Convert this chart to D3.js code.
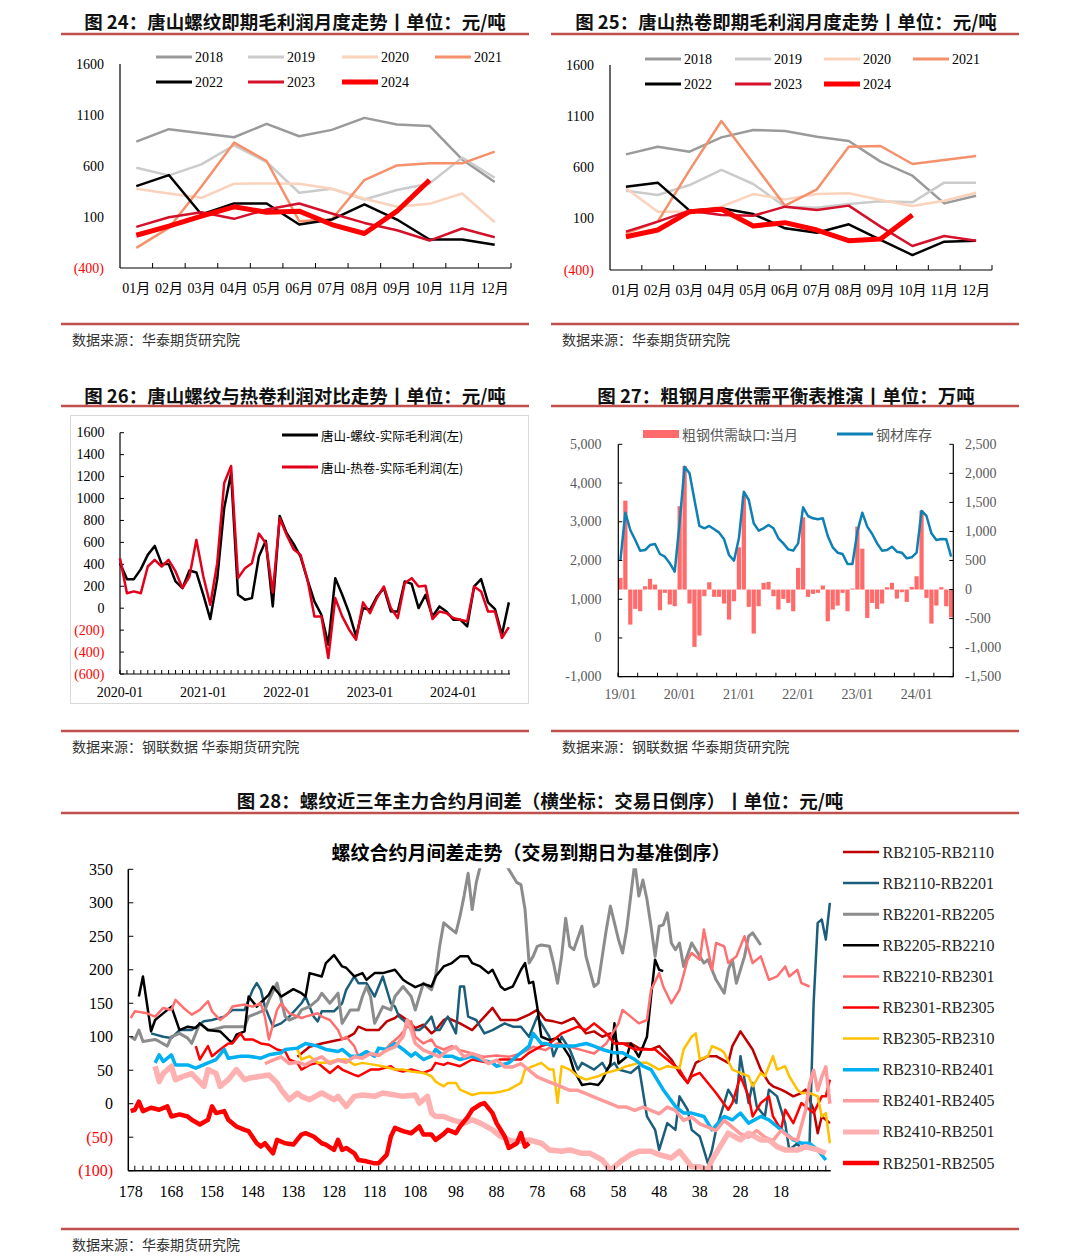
<!DOCTYPE html>
<html>
<head>
<meta charset="utf-8">
<script src="https://cdn.jsdelivr.net/npm/d3@7"></script>
<style>
body { margin: 0; background: #fff; }
svg { display: block; }
</style>
</head>
<body>
<script>
// ---------- chart 24 / 25: monthly gross profit by year ----------
var months = ["01月", "02月", "03月", "04月", "05月", "06月", "07月", "08月", "09月", "10月", "11月", "12月"];
var years = ["2018", "2019", "2020", "2021", "2022", "2023", "2024"];
var profitTicks = [1600, 1100, 600, 100, -400];

var rebar18 = [839, 961, 921, 882, 1013, 892, 954, 1072, 1006, 993, 665, 443];
var rebar19 = [583, 508, 616, 803, 639, 338, 377, 272, 364, 429, 682, 485];
var rebar20 = [377, 331, 288, 426, 429, 426, 377, 279, 200, 229, 331, 49];
var rebar21 = [-203, -7, 400, 829, 649, 59, 75, 462, 606, 626, 626, 741];
var rebar22 = [403, 511, 124, 233, 233, 26, 75, 223, 75, -121, -121, -171];
var rebar23 = [3, 98, 147, 82, 174, 233, 134, 42, -30, -131, -13, -98];
var rebar24 = [-79, 10, 108, 200, 147, 157, 26, -62, 157, 462];

var hrc18 = [728, 803, 754, 894, 966, 956, 901, 859, 657, 520, 250, 325];
var hrc19 = [374, 332, 429, 576, 439, 218, 208, 244, 270, 260, 452, 452];
var hrc20 = [397, 169, 169, 218, 341, 289, 341, 348, 283, 224, 276, 354];
var hrc21 = [-42, 72, 575, 1054, 641, 228, 387, 803, 810, 634, 673, 712];
var hrc22 = [413, 452, 179, 202, 146, 7, -36, 46, -107, -254, -124, -114];
var hrc23 = [-26, 72, 179, 137, 130, 218, 185, 228, 23, -166, -68, -114];
var hrc24 = [-75, -10, 169, 192, 29, 62, -10, -114, -98, 137];

// ---------- chart 26: monthly actual gross profit 2020-01 .. 2024-09 ----------
var yearLabels26 = ["2020-01", "2021-01", "2022-01", "2023-01", "2024-01"];
var profitTicks26 = [1600, 1400, 1200, 1000, 800, 600, 400, 200, 0, -200, -400, -600];
var rebarProfit = [410, 265, 265, 356, 486, 568, 404, 404, 244, 183, 344, 326, 122, -99, 265, 911, 1230, 122, 77, 92,
  471, 614, 16, 841, 684, 586, 471, 259, 62, -60, -333, 274, 122, -45, -257, 1, -14, 107, 183, -30,
  -30, 244, 222, 1, 122, -75, 16, -30, -105, -105, -166, 198, 265, 53, -8, -242, 53];
var hrcProfit = [456, 137, 153, 137, 380, 441, 380, 441, 335, 183, 289, 623, 289, 31, 410, 1139, 1297, 274, 365, 410,
  680, 593, 143, 820, 668, 538, 486, 259, -75, -75, -454, 92, -75, -196, -287, 53, -45, 92, 198, 1,
  -90, 228, 274, 198, 204, -99, -30, -45, -90, -105, -120, 198, 153, -30, -30, -272, -172];

// ---------- chart 27: crude steel balance 2019-01 .. 2024-08 ----------
var yearLabels27 = ["19/01", "20/01", "21/01", "22/01", "23/01", "24/01"];
var leftTicks27 = [5000, 4000, 3000, 2000, 1000, 0, -1000];
var rightTicks27 = [2500, 2000, 1500, 1000, 500, 0, -500, -1000, -1500];
var steelGap = [201, 1530, -603, -333, -373, 57, 184, 86, -356, -57, -258, -287,
  1435, 2124, -241, -987, -792, -115, 126, -126, -126, -241, -517, -201,
  727, 1611, -298, -758, -287, 115, 132, -115, -344, -161, -230, -373,
  373, 1244, -126, -75, -57, 69, -546, -344, -276, -57, -373, 17,
  1083, 703, -488, -230, -333, -241, 40, 115, -155, -46, -212, 46,
  229, 1358, -143, -586, -276, 40, -287, -480];
var steelStock = [2013, 3235, 2788, 2530, 2254, 2271, 2400, 2426, 2168, 2099, 1927, 1712,
  3000, 4423, 4251, 3562, 2891, 2831, 2891, 2805, 2719, 2547, 2142, 1996,
  2573, 3778, 3562, 2960, 2770, 2831, 2917, 2831, 2573, 2443, 2288, 2254,
  2443, 3373, 3149, 3089, 3063, 3089, 2633, 2340, 2202, 2168, 1910, 1910,
  2745, 3235, 2874, 2684, 2443, 2254, 2271, 2357, 2228, 2202, 2056, 2082,
  2202, 3278, 3149, 2702, 2530, 2556, 2547, 2100];

// ---------- chart 28: rebar calendar spreads, [trading days to expiry, spread] ----------
var spreadTicksY = [350, 300, 250, 200, 150, 100, 50, 0, -50, -100];
var spreadTicksX = [178, 168, 158, 148, 138, 128, 118, 108, 98, 88, 78, 68, 58, 48, 38, 28, 18];
var spreadNames = ["RB2105-RB2110", "RB2110-RB2201", "RB2201-RB2205", "RB2205-RB2210", "RB2210-RB2301",
  "RB2301-RB2305", "RB2305-RB2310", "RB2310-RB2401", "RB2401-RB2405", "RB2410-RB2501", "RB2501-RB2505"];

var s2105 = [[137,70],[134,85],[131,90],[127,95],[125,98],[123,105],[122,115],[120,110],[117,110],[115,123],[113,128],[112,133],[110,125],[108,113],[106,118],[104,105],[103,110],[101,125],[100,128],[97,120],[94,110],[89,143],[87,125],[85,125],[83,125],[80,133],[78,140],[76,125],[74,123],[72,120],[69,128],[66,105],[64,108],[62,100],[60,105],[58,90],[55,90],[53,83],[50,81],[48,86],[45,66],[43,46],[41,31],[39,61],[36,71],[34,71],[31,61],[30,86],[28,108],[26,90],[25,81],[23,51],[21,31],[20,26],[18,21],[17,18],[15,11],[13,16],[12,21],[10,-9],[9,-44],[8,-19],[6,-29]];
var s2110 = [[173,105],[170,100],[168,98],[166,110],[163,110],[160,123],[158,125],[155,130],[153,140],[150,140],[148,170],[147,180],[146,170],[145,145],[143,115],[141,120],[139,130],[136,150],[135,160],[133,130],[132,123],[131,138],[128,138],[126,150],[125,170],[123,190],[122,180],[120,180],[118,160],[116,190],[114,150],[113,145],[112,130],[110,120],[109,110],[107,110],[106,115],[104,130],[103,110],[102,110],[100,130],[98,105],[97,175],[96,175],[95,130],[93,125],[91,105],[89,110],[86,120],[84,115],[82,115],[80,100],[78,130],[76,110],[75,100],[74,71],[72,100],[70,81],[68,51],[67,61],[64,51],[62,61],[61,51],[59,61],[58,51],[55,46],[53,56],[51,-19],[49,-39],[48,-69],[46,-29],[44,-39],[43,11],[41,-9],[40,-39],[38,-49],[36,-89],[35,-69],[34,-39],[32,1],[31,21],[29,1],[28,71],[26,1],[25,31],[24,-4],[22,-19],[21,21],[19,11],[17,-29],[16,-69],[14,-59],[13,-69],[11,-59],[10,150],[9,270],[8,275],[7,245],[6,300]];
var s2201 = [[178,100],[177,96],[176,110],[175,93],[172,96],[171,93],[169,86],[168,100],[166,105],[164,98],[163,90],[161,120],[159,110],[158,110],[155,115],[153,115],[150,115],[149,130],[147,135],[145,140],[144,155],[142,180],[140,130],[139,125],[137,130],[136,140],[134,145],[132,155],[131,165],[129,150],[127,165],[126,120],[124,140],[122,140],[121,160],[120,175],[119,160],[118,120],[116,145],[114,140],[113,160],[111,175],[109,160],[108,140],[106,180],[104,170],[103,190],[102,235],[101,270],[99,260],[98,255],[97,280],[96,310],[95,344],[94,290],[93,330],[92,355],[90,360],[86,360],[84,340],[83,330],[82,327],[81,290],[80,210],[79,220],[78,235],[77,237],[75,235],[74,210],[73,180],[72,220],[71,277],[70,235],[69,230],[67,265],[66,220],[64,175],[63,180],[62,220],[61,260],[60,295],[58,245],[57,225],[56,260],[55,310],[54,360],[53,310],[52,334],[51,305],[50,265],[49,220],[48,265],[47,267],[46,285],[45,240],[44,230],[43,240],[42,205],[40,240],[39,230],[37,210],[36,215],[34,185],[32,165],[31,200],[30,215],[29,180],[27,220],[26,250],[25,255],[23,237]];
var s2205 = [[176,160],[175,190],[173,108],[172,125],[171,130],[168,145],[166,110],[164,115],[162,113],[161,120],[159,110],[156,108],[154,96],[153,91],[152,103],[150,108],[149,160],[147,145],[144,163],[143,175],[141,160],[138,171],[136,165],[135,160],[134,195],[131,190],[130,210],[128,222],[126,205],[125,203],[123,190],[121,195],[120,185],[118,195],[116,195],[113,200],[111,185],[110,181],[108,174],[106,179],[104,175],[103,190],[101,205],[99,210],[97,220],[95,220],[94,210],[92,205],[90,195],[89,200],[87,175],[86,170],[84,175],[82,200],[81,210],[80,180],[79,182],[78,145],[77,100],[75,95],[73,98],[70,70],[69,50],[67,28],[65,30],[63,28],[62,35],[60,60],[59,120],[58,60],[56,70],[55,90],[53,70],[51,100],[50,160],[49,215],[48,200],[47,198]];
var s2210 = [[178,128],[177,138],[174,135],[172,130],[170,143],[168,140],[167,155],[165,143],[163,133],[161,140],[159,153],[158,138],[156,125],[154,135],[153,145],[150,148],[148,145],[146,150],[145,130],[144,96],[142,140],[141,150],[139,135],[136,128],[135,130],[132,135],[131,130],[129,125],[127,110],[126,96],[125,100],[123,86],[122,71],[120,76],[118,71],[116,76],[114,90],[112,100],[110,115],[109,123],[108,100],[106,90],[104,96],[103,86],[101,81],[99,86],[97,80],[94,75],[91,70],[88,72],[85,70],[82,75],[79,85],[76,80],[73,90],[70,85],[67,80],[64,75],[61,90],[58,120],[57,140],[55,130],[53,120],[51,125],[50,170],[48,195],[47,175],[45,150],[43,170],[41,215],[40,225],[38,215],[37,260],[35,200],[34,240],[32,235],[31,210],[29,220],[27,250],[25,210],[23,220],[21,185],[19,190],[17,205],[16,190],[14,200],[13,180],[11,175]];
var s2301 = [[162,86],[161,66],[159,86],[158,71],[156,81],[154,90],[153,90],[151,105],[150,96],[148,96],[146,90],[144,88],[142,81],[140,78],[139,66],[137,61],[136,51],[134,58],[132,61],[131,56],[129,46],[127,56],[126,51],[123,43],[122,41],[119,51],[117,51],[114,56],[113,51],[111,48],[109,51],[106,46],[104,51],[103,61],[101,58],[100,61],[97,56],[94,66],[90,61],[87,66],[84,66],[82,66],[80,76],[77,86],[75,90],[72,105],[70,110],[68,115],[66,110],[64,120],[62,110],[61,105],[59,90],[57,90],[54,81],[52,81],[49,81],[47,71],[44,56],[43,51],[41,31],[40,41],[38,46],[36,31],[34,16],[31,-9],[30,1],[28,41],[26,11],[25,-19],[23,1],[21,11],[20,-19],[18,-39],[17,-9],[15,-29],[13,1],[12,-4],[10,-14],[8,11],[7,11],[6,36]];
var s2305 = [[137,81],[136,66],[134,71],[132,61],[130,61],[127,66],[125,66],[123,58],[121,61],[118,58],[116,56],[113,51],[111,51],[109,48],[106,46],[104,41],[103,33],[101,26],[100,31],[98,31],[97,21],[94,13],[92,16],[89,16],[87,18],[85,21],[82,31],[81,51],[79,56],[77,61],[75,51],[74,51],[73,1],[72,56],[70,51],[68,41],[66,36],[63,41],[61,46],[58,51],[56,56],[53,61],[51,61],[48,51],[46,56],[43,53],[42,81],[40,100],[39,105],[38,66],[36,71],[35,86],[33,81],[32,76],[30,51],[28,46],[26,41],[25,26],[23,46],[22,41],[20,71],[19,51],[17,56],[16,41],[14,21],[13,16],[11,16],[9,11],[8,-19],[7,-14],[6,-59]];
var s2310 = [[172,61],[171,73],[170,63],[168,73],[167,58],[164,58],[162,53],[159,61],[157,66],[155,81],[154,68],[151,71],[149,71],[146,68],[144,73],[141,76],[140,81],[137,83],[135,90],[132,86],[130,81],[127,78],[126,81],[124,71],[122,71],[120,78],[118,71],[117,83],[115,81],[113,90],[111,81],[109,71],[108,76],[106,66],[104,71],[103,81],[101,71],[99,71],[97,66],[94,71],[92,66],[89,61],[88,56],[85,61],[83,71],[80,86],[79,105],[77,90],[76,90],[74,86],[71,86],[69,86],[66,90],[64,86],[62,81],[59,76],[57,76],[54,66],[52,56],[50,51],[47,21],[44,-4],[42,-14],[40,-14],[37,-19],[35,-39],[32,-19],[30,-24],[28,-14],[26,-29],[23,-19],[21,-24],[19,-34],[17,-44],[15,-54],[13,-59],[11,-59],[9,-69],[7,-84]];
var s2401 = [[145,60],[143,65],[141,70],[139,60],[137,62],[135,58],[133,65],[131,70],[129,60],[127,65],[125,62],[123,70],[121,68],[119,75],[117,72],[115,80],[113,85],[111,100],[110,125],[109,110],[108,90],[106,80],[104,75],[102,70],[100,80],[98,85],[96,70],[94,75],[92,70],[90,60],[88,65],[86,55],[84,55],[82,60],[80,50],[78,40],[76,35],[74,30],[72,25],[70,20],[68,20],[66,15],[64,10],[62,5],[60,0],[58,-5],[56,-5],[54,-10],[52,-5],[50,-10],[48,-15],[46,-5],[44,-10],[42,-25],[40,-20],[38,-30],[36,-35],[34,-40],[32,-25],[30,-35],[28,-45],[26,-50],[24,-40],[22,-50],[20,-55],[18,-40],[16,-50],[14,-55],[12,-10],[11,30],[10,50],[9,20],[8,40],[7,55],[6,0]];
var s2410 = [[172,56],[171,33],[170,45],[168,56],[167,36],[165,41],[163,45],[160,26],[159,51],[157,45],[156,26],[154,36],[152,51],[150,36],[149,38],[146,41],[144,43],[142,31],[141,21],[139,6],[137,16],[136,11],[134,6],[132,13],[131,16],[128,6],[127,11],[125,-4],[123,11],[121,13],[118,11],[116,16],[113,13],[111,11],[108,13],[107,1],[105,11],[104,-14],[103,-19],[101,-19],[99,-24],[96,-29],[94,-24],[92,-29],[89,-39],[87,-49],[84,-56],[82,-56],[80,-54],[77,-59],[75,-69],[72,-71],[70,-69],[67,-74],[65,-74],[62,-84],[60,-99],[57,-84],[55,-76],[53,-71],[50,-71],[48,-76],[45,-81],[43,-71],[40,-94],[38,-94],[36,-99],[35,-84],[33,-64],[31,-44],[28,-54],[26,-44],[23,-54],[21,-54],[19,-64],[17,-69],[14,-69],[12,-64],[9,-69],[7,-74]];
var s2501 = [[178,-11],[177,-9],[176,3],[175,-11],[173,-6],[171,-9],[169,-4],[168,-19],[166,-16],[164,-19],[163,-24],[161,-31],[159,-24],[158,-4],[157,-14],[155,-11],[154,-24],[152,-34],[150,-39],[149,-41],[147,-59],[146,-64],[145,-59],[143,-74],[142,-54],[140,-59],[138,-61],[136,-46],[135,-44],[133,-49],[131,-59],[130,-61],[128,-69],[127,-54],[126,-69],[125,-66],[123,-74],[122,-84],[120,-86],[118,-89],[117,-89],[115,-76],[114,-49],[113,-36],[111,-41],[109,-44],[107,-34],[106,-46],[104,-46],[103,-54],[101,-45],[100,-39],[98,-44],[97,-34],[95,-19],[94,-9],[92,-1],[91,1],[89,-14],[88,-29],[86,-49],[85,-66],[83,-59],[82,-44],[81,-64],[80,-59]];

// ---------- page ----------
var SERIF = "'Liberation Serif', 'Noto Sans CJK SC', serif";
var SANS = "'Noto Sans CJK SC', 'Noto Sans', sans-serif";
var RULE = "#c0504d";

var svg = d3.select("body").append("svg")
    .attr("width", 1080)
    .attr("height", 1257);

function addText(g, x, y, s, o) {
    o = o || {};
    return g.append("text")
        .attr("x", x)
        .attr("y", y)
        .attr("font-family", o.font || SERIF)
        .attr("font-size", o.size || 14)
        .attr("font-weight", o.weight || "normal")
        .attr("fill", o.color || "#000")
        .attr("text-anchor", o.anchor || "start")
        .attr("dominant-baseline", "central")
        .text(s);
}

function hline(g, x1, x2, y, color, w) {
    g.append("line").attr("x1", x1).attr("x2", x2).attr("y1", y).attr("y2", y)
        .attr("stroke", color).attr("stroke-width", w);
}

function vline(g, x, y1, y2, color, w) {
    g.append("line").attr("x1", x).attr("x2", x).attr("y1", y1).attr("y2", y2)
        .attr("stroke", color).attr("stroke-width", w);
}

function paren(v) {
    return v < 0 ? "(" + (-v) + ")" : String(v);
}

function header(cx, cy, title, x0, x1, ruleY) {
    addText(svg, cx, cy, title, {font: SANS, size: 18.5, weight: "bold", anchor: "middle", color: "#111"});
    hline(svg, x0, x1, ruleY, RULE, 2.5);
}

function footer(x0, x1, ruleY, textY, s) {
    hline(svg, x0, x1, ruleY, RULE, 2.5);
    addText(svg, x0 + 11, textY, s, {font: SANS, size: 14, color: "#333"});
}

header(295, 21, "图 24：唐山螺纹即期毛利润月度走势丨单位：元/吨", 61, 529, 34);
header(786, 21, "图 25：唐山热卷即期毛利润月度走势丨单位：元/吨", 551, 1019, 34);
footer(61, 529, 324, 339, "数据来源：华泰期货研究院");
footer(551, 1019, 324, 339, "数据来源：华泰期货研究院");
header(295, 395, "图 26：唐山螺纹与热卷利润对比走势丨单位：元/吨", 61, 529, 406);
header(786, 395, "图 27：粗钢月度供需平衡表推演丨单位：万吨", 551, 1019, 406);
footer(61, 529, 731, 746, "数据来源：钢联数据 华泰期货研究院");
footer(551, 1019, 731, 746, "数据来源：钢联数据 华泰期货研究院");
header(540, 800, "图 28：螺纹近三年主力合约月间差（横坐标：交易日倒序）丨单位：元/吨", 61, 1019, 813);
footer(61, 1019, 1229, 1244, "数据来源：华泰期货研究院");

// ---------- charts 24 and 25 ----------
var yearStyle = {
    "2018": {color: "#9a9a9a", w: 2.5},
    "2019": {color: "#cbcbcb", w: 2.5},
    "2020": {color: "#fbd2bc", w: 2.5},
    "2021": {color: "#f4916b", w: 2.5},
    "2022": {color: "#000000", w: 2.5},
    "2023": {color: "#d4102a", w: 2.5},
    "2024": {color: "#ff0000", w: 5}
};

function monthlyChart(c, data) {
    var g = svg.append("g");
    var x = d3.scaleBand().domain(months).range([c.left, c.right]);
    var y = d3.scaleLinear().domain([-400, 1600]).range([c.bottom, c.top]);

    profitTicks.forEach(function(v) {
        addText(g, c.left - 16, y(v), paren(v), {anchor: "end", size: 14, color: v < 0 ? "#ff0000" : "#000"});
    });
    vline(g, c.left, c.top, c.bottom, "#000", 1.2);
    hline(g, c.left, c.right, c.bottom, "#000", 1.2);
    months.forEach(function(m, i) {
        if (i > 0) vline(g, x(m), c.bottom - 5, c.bottom, "#000", 1);
        addText(g, x(m) + x.bandwidth() / 2, c.bottom + 20, m, {anchor: "middle", size: 14});
    });
    vline(g, c.right, c.bottom - 5, c.bottom, "#000", 1);

    var line = d3.line()
        .x(function(d, i) { return x(months[i]) + x.bandwidth() / 2; })
        .y(function(d) { return y(d); });

    years.forEach(function(yr, i) {
        g.append("path")
            .datum(data[i])
            .attr("d", line)
            .attr("fill", "none")
            .attr("stroke", yearStyle[yr].color)
            .attr("stroke-width", yearStyle[yr].w)
            .attr("stroke-linejoin", "round");
    });

    // legend: two rows, four columns
    years.forEach(function(yr, i) {
        var col = i % 4, row = Math.floor(i / 4);
        var lx = c.legendX[col], ly = c.legendY[row];
        hline(g, lx, lx + 36, ly, yearStyle[yr].color, yearStyle[yr].w === 5 ? 5 : 3);
        addText(g, lx + 39, ly, yr, {size: 14});
    });
}

monthlyChart({left: 120, right: 511, top: 64, bottom: 268, legendX: [156, 248, 342, 435], legendY: [57, 82]},
    [rebar18, rebar19, rebar20, rebar21, rebar22, rebar23, rebar24]);
monthlyChart({left: 610, right: 992, top: 65, bottom: 270, legendX: [645, 735, 824, 913], legendY: [59, 84]},
    [hrc18, hrc19, hrc20, hrc21, hrc22, hrc23, hrc24]);

// ---------- chart 26 ----------
(function() {
    var g = svg.append("g");
    g.append("rect").attr("x", 70.5).attr("y", 415.5).attr("width", 458).attr("height", 288)
        .attr("fill", "none").attr("stroke", "#d9d9d9");
    var left = 120, right = 510, top = 432.7, bottom = 674;
    var x = d3.scaleLinear().domain([0, 56]).range([left, left + 56 * 6.944]);
    var y = d3.scaleLinear().domain([-600, 1600]).range([bottom, top]);

    profitTicks26.forEach(function(v) {
        addText(g, 104.5, y(v), paren(v), {anchor: "end", size: 14, color: v < 0 ? "#ff0000" : "#000"});
        hline(g, left, left + 4, y(v), "#000", 1);
    });
    vline(g, left, top, bottom, "#000", 1.2);
    hline(g, left, right, bottom, "#000", 1.2);
    d3.range(0, 57).forEach(function(i) {
        vline(g, x(i), bottom - 4, bottom, "#000", 1);
    });
    yearLabels26.forEach(function(s, i) {
        addText(g, x(i * 12), bottom + 18, s, {anchor: "middle", size: 14});
    });

    var line = d3.line().x(function(d, i) { return x(i); }).y(function(d) { return y(d); });
    g.append("path").datum(rebarProfit).attr("d", line).attr("fill", "none")
        .attr("stroke", "#000").attr("stroke-width", 2.5).attr("stroke-linejoin", "round");
    g.append("path").datum(hrcProfit).attr("d", line).attr("fill", "none")
        .attr("stroke", "#e3001b").attr("stroke-width", 2.5).attr("stroke-linejoin", "round");

    hline(g, 282, 318, 435, "#000", 3);
    addText(g, 321, 435, "唐山-螺纹-实际毛利润(左)", {font: SANS, size: 12.5});
    hline(g, 282, 318, 467, "#e3001b", 3);
    addText(g, 321, 467, "唐山-热卷-实际毛利润(左)", {font: SANS, size: 12.5});
})();

// ---------- chart 27 ----------
(function() {
    var g = svg.append("g");
    var left = 618.3, right = 953.3, top = 444.3, bottom = 676.7;
    var x = d3.scaleBand().domain(d3.range(steelGap.length)).range([left, right]).paddingInner(0.14);
    var yL = d3.scaleLinear().domain([-1000, 5000]).range([bottom, top]);
    var yR = d3.scaleLinear().domain([-1500, 2500]).range([bottom, top]);
    var grey = "#595959";
    var comma = d3.format(",");
    var fmt = function(v) { return comma(v).replace("\u2212", "-"); };

    g.selectAll(".bar27")
        .data(steelGap)
        .enter().append("rect")
        .attr("x", function(d, i) { return x(i); })
        .attr("y", function(d) { return yR(Math.max(0, d)); })
        .attr("width", x.bandwidth())
        .attr("height", function(d) { return Math.abs(yR(d) - yR(0)); })
        .attr("fill", "#ff6b6b");

    var line = d3.line()
        .x(function(d, i) { return x(i) + x.bandwidth() / 2; })
        .y(function(d) { return yL(d); });
    g.append("path").datum(steelStock).attr("d", line).attr("fill", "none")
        .attr("stroke", "#0e80b4").attr("stroke-width", 2.5).attr("stroke-linejoin", "round");

    vline(g, left, top, bottom, "#000", 1.2);
    vline(g, right, top, bottom, "#000", 1.2);
    hline(g, left, right, bottom, "#000", 1.2);
    leftTicks27.forEach(function(v) {
        addText(g, 601.5, yL(v), fmt(v), {anchor: "end", size: 14, color: grey});
        hline(g, left, left + 4, yL(v), "#000", 1);
    });
    rightTicks27.forEach(function(v) {
        addText(g, 965, yR(v), fmt(v), {size: 14, color: grey});
        hline(g, right - 4, right, yR(v), "#000", 1);
    });
    d3.range(0, steelGap.length + 1, 4).forEach(function(i) {
        var px = i < steelGap.length ? x(i) - x.step() * x.paddingInner() / 2 : right;
        vline(g, px, bottom - 4, bottom, "#000", 1);
    });
    yearLabels27.forEach(function(s, i) {
        addText(g, x(i * 12) + x.bandwidth() / 2, 694, s, {anchor: "middle", size: 14, color: grey});
    });

    g.append("rect").attr("x", 643).attr("y", 430).attr("width", 36).attr("height", 8).attr("fill", "#ff6b6b");
    addText(g, 682, 434, "粗钢供需缺口:当月", {font: SANS, size: 14, color: grey});
    hline(g, 837, 873, 434, "#0e80b4", 3);
    addText(g, 876, 434, "钢材库存", {font: SANS, size: 14, color: grey});
})();

// ---------- chart 28 ----------
(function() {
    var g = svg.append("g");
    var left = 128.3, right = 830.7, top = 869.3, bottom = 1170.7;
    var x = d3.scaleLinear().domain([178.6, 5.8]).range([left, right]);
    var y = d3.scaleLinear().domain([-100, 350]).range([bottom, top]);

    var styles = [
        {color: "#c00000", w: 2.5},
        {color: "#1b5e7b", w: 2.5},
        {color: "#8c8c8c", w: 3},
        {color: "#000000", w: 2.5},
        {color: "#ff6f6f", w: 2.5},
        {color: "#ff0000", w: 2.5},
        {color: "#ffc000", w: 2.5},
        {color: "#00b0f0", w: 3.5},
        {color: "#ff9b9b", w: 3.5},
        {color: "#ffb0b0", w: 5.5},
        {color: "#ff0000", w: 4.5}
    ];
    var series = [s2105, s2110, s2201, s2205, s2210, s2301, s2305, s2310, s2401, s2410, s2501];

    addText(g, 531, 851, "螺纹合约月间差走势（交易到期日为基准倒序）", {font: SANS, size: 19, weight: "bold", anchor: "middle"});

    svg.append("clipPath").attr("id", "clip28")
        .append("rect").attr("x", left).attr("y", top - 1).attr("width", right - left + 2).attr("height", bottom - top + 2);

    var line = d3.line().x(function(d) { return x(d[0]); }).y(function(d) { return y(d[1]); });
    var lines = g.append("g").attr("clip-path", "url(#clip28)");
    series.forEach(function(s, i) {
        lines.append("path").datum(s).attr("d", line).attr("fill", "none")
            .attr("stroke", styles[i].color).attr("stroke-width", styles[i].w)
            .attr("stroke-linejoin", "round");
    });

    vline(g, left, top, bottom, "#000", 1.5);
    hline(g, left, right, bottom, "#000", 1.5);
    spreadTicksY.forEach(function(v) {
        hline(g, left, left + 5, y(v), "#000", 1);
        addText(g, 113, y(v), paren(v), {anchor: "end", size: 16, color: v < 0 ? "#ff0000" : "#000"});
    });
    d3.range(177, 5, -2).forEach(function(d) {
        vline(g, x(d), bottom - 5, bottom, "#000", 1);
    });
    spreadTicksX.forEach(function(d) {
        addText(g, x(d), 1191, String(d), {anchor: "middle", size: 16});
    });

    spreadNames.forEach(function(n, i) {
        var ly = 852 + i * 31.1;
        hline(g, 843, 879, ly, styles[i].color, Math.min(styles[i].w, 5));
        addText(g, 882.5, ly, n, {size: 16, color: "#222"});
    });
})();
</script>
</body>
</html>
